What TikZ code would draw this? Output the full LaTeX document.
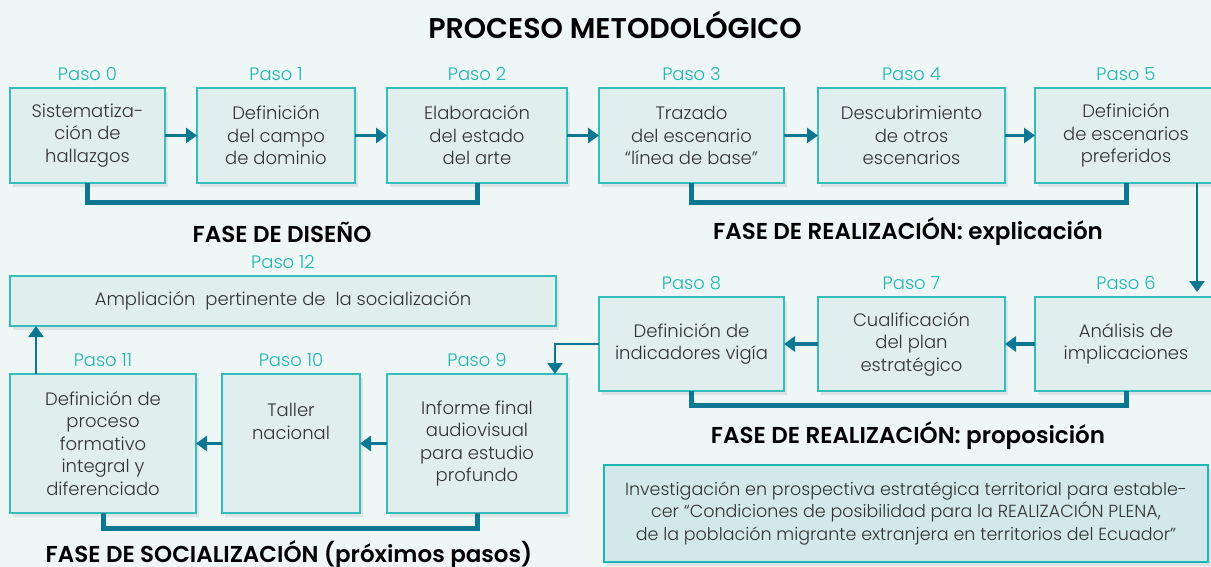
\documentclass[tikz,border=0pt]{standalone}
\usepackage{fontspec}
\setmainfont{Poppins Light}[BoldFont=Poppins SemiBold]
\usetikzlibrary{arrows.meta,shadows}
\definecolor{bgmint}{HTML}{EFF7F6}
\definecolor{boxfill}{HTML}{E0EEEE}
\definecolor{boxedge}{HTML}{35BCBC}
\definecolor{linkblue}{HTML}{0D7792}
\definecolor{pasoteal}{HTML}{1DB6B4}
\definecolor{textgray}{HTML}{333333}
\definecolor{infofill}{HTML}{D3E8EA}
\begin{document}
\begin{tikzpicture}[x=1pt,y=-1pt,inner sep=0pt,outer sep=0pt,
stepbox/.style={draw=boxedge,fill=boxfill,line width=1.4pt,rectangle,align=center,text=textgray,
  font=\fontsize{18}{22.5}\selectfont,drop shadow={opacity=0.16,shadow xshift=3pt,shadow yshift=-4pt}},
pasolbl/.style={text=pasoteal,font=\fontsize{18}{20}\selectfont},
fase/.style={font=\fontsize{23}{26}\selectfont\bfseries,text=black},
link/.style={draw=linkblue,line width=3.5pt,-{Triangle[length=11pt,width=15pt]}},
bracket/.style={draw=linkblue,line width=5pt}]
\useasboundingbox (0,0) rectangle (1211,567);
\fill[bgmint] (0,0) rectangle (1211,567);
\draw (615,25) node[font=\fontsize{28.5}{32}\selectfont\bfseries] (title) {PROCESO METODOLÓGICO};
% fila 1
\draw (87.5,135.5) node[stepbox,minimum width=155,minimum height=95,label={[pasolbl,label distance=7pt]above:Paso 0}] (b0) {Sistematiza-\\ción de\\hallazgos};
\draw (276,135.5) node[stepbox,minimum width=158,minimum height=95,label={[pasolbl,label distance=7pt]above:Paso 1}] (b1) {Definición\\del campo\\de dominio};
\draw (477,135.5) node[stepbox,minimum width=180,minimum height=95,label={[pasolbl,label distance=7pt]above:Paso 2}] (b2) {Elaboración\\del estado\\del arte};
\draw (691.5,135.5) node[stepbox,minimum width=185,minimum height=95,label={[pasolbl,label distance=7pt]above:Paso 3}] (b3) {Trazado\\del escenario\\“línea de base”};
\draw (911.5,135.5) node[stepbox,minimum width=187,minimum height=95,label={[pasolbl,label distance=7pt]above:Paso 4}] (b4) {Descubrimiento\\de otros\\escenarios};
\draw (1126,135.5) node[stepbox,minimum width=182,minimum height=95,label={[pasolbl,label distance=7pt]above:Paso 5}] (b5) {Definición\\de escenarios\\preferidos};
% fila 2
\draw (1126,344) node[stepbox,minimum width=182,minimum height=94,label={[pasolbl,label distance=7pt]above:Paso 6}] (b6) {Análisis de\\implicaciones};
\draw (911.5,344) node[stepbox,minimum width=187,minimum height=94,label={[pasolbl,label distance=7pt]above:Paso 7}] (b7) {Cualificación\\del plan\\estratégico};
\draw (691.5,344) node[stepbox,minimum width=185,minimum height=94,label={[pasolbl,label distance=7pt]above:Paso 8}] (b8) {Definición de\\indicadores vigía};
\draw (283,301) node[stepbox,minimum width=546,minimum height=50,label={[pasolbl,label distance=7pt]above:Paso 12}] (b12) {Ampliación\ \ pertinente de\ \ la socialización};
% fila 3
\draw (477,443.5) node[stepbox,minimum width=180,minimum height=139,label={[pasolbl,label distance=7pt]above:Paso 9}] (b9) {Informe final\\audiovisual\\para estudio\\profundo};
\draw (291,443.5) node[stepbox,minimum width=138,minimum height=139,label={[pasolbl,label distance=7pt]above:Paso 10}] (b10) {Taller\\nacional\\[22pt]};
\draw (103,443.5) node[stepbox,minimum width=186,minimum height=139,label={[pasolbl,label distance=7pt]above:Paso 11}] (b11) {Definición de\\proceso\\formativo\\integral y\\diferenciado};
\draw (906,513.5) node[stepbox,draw=pasoteal,fill=infofill,line width=2.5pt,minimum width=604,minimum height=97,font=\fontsize{17.5}{22.5}\selectfont] (info) {Investigación en prospectiva estratégica territorial para estable-\\cer “Condiciones de posibilidad para la REALIZACIÓN PLENA,\\de la población migrante extranjera en territorios del Ecuador”};
\coordinate (rt) at (1197,0);
\coordinate (dn) at (555,0);
\coordinate (up) at (36,0);
% conectores
\draw[link] (b0) -- (b1);
\draw[link] (b1) -- (b2);
\draw[link] (b2) -- (b3);
\draw[link] (b3) -- (b4);
\draw[link] (b4) -- (b5);
\draw[link,line width=2.5pt,shorten >=5pt] (b5.south -| rt) -- (b6.north -| rt);
\draw[link] (b6) -- (b7);
\draw[link] (b7) -- (b8);
\draw[link,line width=2.5pt] (b8.west) -| (b9.north -| dn);
\draw[link] (b9) -- (b10);
\draw[link] (b10) -- (b11);
\draw[link,line width=2.5pt] (b11.north -| up) -- (b12.south -| up);
% fases
\draw[bracket] (b0.south) -- ++(0,20) -| (b2.south);
\draw[bracket] (b3.south) -- ++(0,20) -| (b5.south);
\draw[bracket] (b8.south) -- ++(0,14) -| (b6.south);
\draw[bracket] (b11.south) -- ++(0,15) -| (b9.south);
\draw (282,232) node[fase] (f1) {FASE DE DISEÑO};
\draw (908,232) node[fase] (f2) {FASE DE REALIZACIÓN: explicación};
\draw (908,436) node[fase] (f3) {FASE DE REALIZACIÓN: proposición};
\draw (289,555) node[fase] (f4) {FASE DE SOCIALIZACIÓN (próximos pasos)};
\end{tikzpicture}
\end{document}
